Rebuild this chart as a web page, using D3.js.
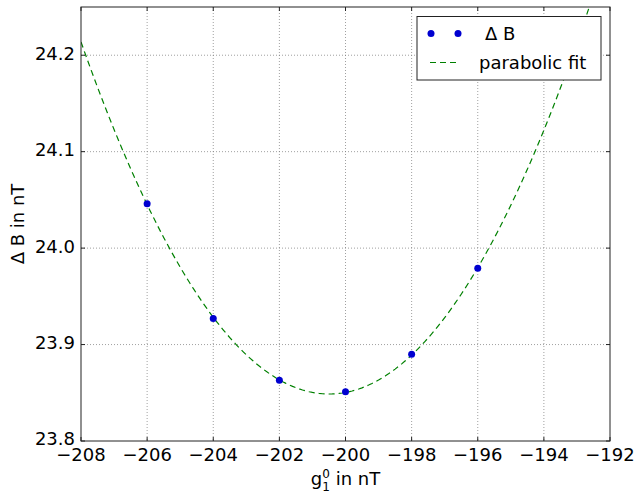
<!DOCTYPE html>
<html>
<head>
<meta charset="utf-8">
<script src="https://cdn.jsdelivr.net/npm/d3@7"></script>
<style>
  body { margin: 0; background: #fff; }
  svg { font-family: "DejaVu Sans", sans-serif; }
</style>
</head>
<body>
<svg id="chart" width="637" height="496"></svg>
<script>
// measured points: g1^0 (nT) vs Delta B (nT)
const g10 = [-206, -204, -202, -200, -198, -196];
const deltaB = [24.046, 23.927, 23.863, 23.851, 23.890, 23.979];

const xTicks = [-208, -206, -204, -202, -200, -198, -196, -194, -192];
const yTicks = [23.8, 23.9, 24.0, 24.1, 24.2];

const svg = d3.select("#chart");
const plotL = 81, plotR = 610, plotT = 7, plotB = 441;

const x = d3.scaleLinear().domain([-208, -192]).range([plotL, plotR]);
const y = d3.scaleLinear().domain([23.8, 24.25]).range([plotB, plotT]);

// least squares parabola through the measured points
function fitParabola(xs, ys) {
  let s = [0, 0, 0, 0, 0], t = [0, 0, 0];
  for (let i = 0; i < xs.length; i++) {
    let p = 1;
    for (let k = 0; k < 5; k++) { s[k] += p; if (k < 3) t[k] += p * ys[i]; p *= xs[i]; }
  }
  const A = [[s[0], s[1], s[2], t[0]], [s[1], s[2], s[3], t[1]], [s[2], s[3], s[4], t[2]]];
  for (let i = 0; i < 3; i++) {
    for (let j = i + 1; j < 3; j++) {
      const f = A[j][i] / A[i][i];
      for (let k = i; k < 4; k++) A[j][k] -= f * A[i][k];
    }
  }
  const c = [0, 0, 0];
  for (let i = 2; i >= 0; i--) {
    let v = A[i][3];
    for (let k = i + 1; k < 3; k++) v -= A[i][k] * c[k];
    c[i] = v / A[i][i];
  }
  return c;
}
const coef = fitParabola(g10, deltaB);
const fitX = d3.range(-208, -191.99, 0.1);
const fitY = fitX.map(v => coef[0] + coef[1] * v + coef[2] * v * v);

svg.append("defs").append("clipPath").attr("id", "plotclip")
  .append("rect").attr("x", plotL).attr("y", plotT)
  .attr("width", plotR - plotL).attr("height", plotB - plotT);

// grid
svg.append("g").selectAll("line").data(xTicks.slice(1, -1)).join("line")
  .attr("x1", d => x(d)).attr("x2", d => x(d))
  .attr("y1", plotT).attr("y2", plotB)
  .attr("stroke", "#777").attr("stroke-width", 0.7).attr("stroke-dasharray", "1,2");
svg.append("g").selectAll("line").data(yTicks.slice(1)).join("line")
  .attr("x1", plotL).attr("x2", plotR)
  .attr("y1", d => y(d)).attr("y2", d => y(d))
  .attr("stroke", "#777").attr("stroke-width", 0.7).attr("stroke-dasharray", "1,2");

// fit curve
svg.append("path")
  .datum(fitX.map((v, i) => [v, fitY[i]]))
  .attr("clip-path", "url(#plotclip)")
  .attr("fill", "none")
  .attr("stroke", "#008000")
  .attr("stroke-width", 1.2)
  .attr("stroke-dasharray", "6,4")
  .attr("d", d3.line().x(d => x(d[0])).y(d => y(d[1])));

// points
svg.append("g").selectAll("circle").data(g10).join("circle")
  .attr("cx", d => x(d))
  .attr("cy", (d, i) => y(deltaB[i]))
  .attr("r", 3.5)
  .attr("fill", "#0000d0");

// frame
svg.append("rect").attr("x", plotL).attr("y", plotT)
  .attr("width", plotR - plotL).attr("height", plotB - plotT)
  .attr("fill", "none").attr("stroke", "#222").attr("stroke-width", 1);

// axes with inward ticks on all sides
const ax = svg.append("g").attr("font-size", 18).attr("fill", "#000");
ax.append("g").selectAll("line").data(xTicks).join("line")
  .attr("x1", d => x(d)).attr("x2", d => x(d))
  .attr("y1", plotB).attr("y2", plotB - 4).attr("stroke", "#222");
ax.append("g").selectAll("line").data(xTicks).join("line")
  .attr("x1", d => x(d)).attr("x2", d => x(d))
  .attr("y1", plotT).attr("y2", plotT + 4).attr("stroke", "#222");
ax.append("g").selectAll("line").data(yTicks).join("line")
  .attr("x1", plotL).attr("x2", plotL + 4)
  .attr("y1", d => y(d)).attr("y2", d => y(d)).attr("stroke", "#222");
ax.append("g").selectAll("line").data(yTicks).join("line")
  .attr("x1", plotR).attr("x2", plotR - 4)
  .attr("y1", d => y(d)).attr("y2", d => y(d)).attr("stroke", "#222");

ax.append("g").selectAll("text").data(xTicks).join("text")
  .attr("x", d => x(d)).attr("y", 461)
  .attr("text-anchor", "middle")
  .text(d => d3.format(".0f")(d).replace("-", "\u2212"));
ax.append("g").selectAll("text").data(yTicks).join("text")
  .attr("x", plotL - 6).attr("y", d => y(d) - 2).attr("dy", "0.36em")
  .attr("text-anchor", "end")
  .text(d => d3.format(".1f")(d));

// axis labels
const xl = svg.append("text")
  .attr("x", (plotL + plotR) / 2).attr("y", 485)
  .attr("text-anchor", "middle").attr("font-size", 18);
xl.append("tspan").text("g");
xl.append("tspan").attr("font-size", 12).attr("dy", -7).text("0");
xl.append("tspan").attr("font-size", 12).attr("dx", -7.6).attr("dy", 13).text("1");
xl.append("tspan").attr("dy", -6).text(" in nT");

svg.append("text")
  .attr("transform", `translate(24,${(plotT + plotB) / 2}) rotate(-90)`)
  .attr("text-anchor", "middle").attr("font-size", 18)
  .text("\u0394 B in nT");

// legend
const lg = svg.append("g");
lg.append("rect").attr("x", 417).attr("y", 16.5).attr("width", 184).attr("height", 63.5)
  .attr("fill", "#fff").attr("stroke", "#222").attr("stroke-width", 1);
lg.selectAll("circle").data([431, 458]).join("circle")
  .attr("cx", d => d).attr("cy", 33.5).attr("r", 3.5).attr("fill", "#0000d0");
lg.append("line").attr("x1", 430).attr("x2", 459).attr("y1", 62.5).attr("y2", 62.5)
  .attr("stroke", "#008000").attr("stroke-width", 1.2).attr("stroke-dasharray", "6,4");
lg.append("text").attr("x", 485).attr("y", 40).attr("font-size", 18).text("\u0394 B");
lg.append("text").attr("x", 479).attr("y", 69).attr("font-size", 18).text("parabolic fit");
</script>
</body>
</html>
